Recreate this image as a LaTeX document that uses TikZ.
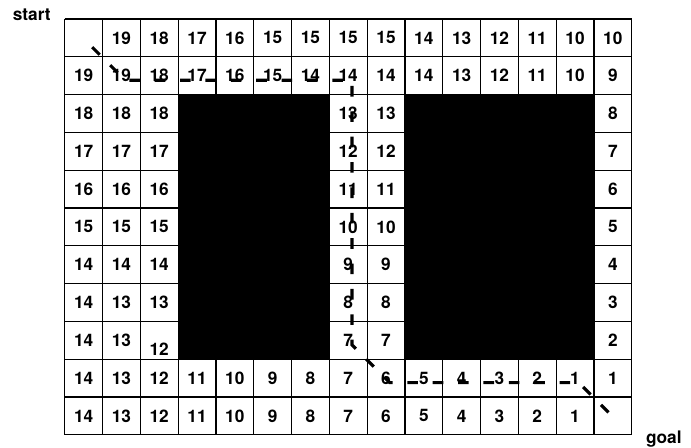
\documentclass[tikz,border=0pt]{standalone}
\usepackage{fontspec}
\setmainfont{TeX Gyre Heros}
\usepackage{tikz}
\usepackage{xcolor}
\definecolor{wallblack}{HTML}{000000}
\def\nocell{x}

\begin{document}
\begin{tikzpicture}[
      num/.style={font=\fontsize{13}{15}\selectfont\bfseries, inner sep=0pt},
      tag/.style={font=\fontsize{13}{15}\selectfont\bfseries, inner sep=0pt, anchor=base},
      route/.style={line width=2.3pt, dash pattern=on 8pt off 11.1pt, dash phase=14pt},
      wall/.style={fill=wallblack}
    ]
      \useasboundingbox (-1.712, 0.503) rectangle (16.568, -11.322);

      % Walls
      \fill[wall] (3,-2) rectangle (7,-9);
      \fill[wall] (9,-2) rectangle (14,-9);

      % Grid
      \draw[line width=0.9pt] (0,-11) grid (15,0);

      % Route
      \coordinate (w1) at (0.60, -0.62);
      \coordinate (w2) at (1.60, -1.62);
      \coordinate (w3) at (7.60, -1.62);
      \coordinate (w4) at (7.60, -8.62);
      \coordinate (w5) at (8.60, -9.62);
      \coordinate (w6) at (13.60, -9.62);
      \coordinate (w7) at (14.60, -10.62);
      \draw[route] (w1) -- (w2) -- (w3) -- (w4) -- (w5) -- (w6) -- (w7);

      % Distances
      \foreach \vals [count=\r] in {
          {x,19,18,17,16,15,15,15,15,14,13,12,11,10,10},
          {19,19,18,17,16,15,14,14,14,14,13,12,11,10,9},
          {18,18,18,x,x,x,x,13,13,x,x,x,x,x,8},
          {17,17,17,x,x,x,x,12,12,x,x,x,x,x,7},
          {16,16,16,x,x,x,x,11,11,x,x,x,x,x,6},
          {15,15,15,x,x,x,x,10,10,x,x,x,x,x,5},
          {14,14,14,x,x,x,x,9,9,x,x,x,x,x,4},
          {14,13,13,x,x,x,x,8,8,x,x,x,x,x,3},
          {14,13,x,x,x,x,x,7,7,x,x,x,x,x,2},
          {14,13,12,11,10,9,8,7,6,5,4,3,2,1,1},
          {14,13,12,11,10,9,8,7,6,5,4,3,2,1,x}} {
        \foreach \v [count=\c] in \vals {
          \ifx\v\nocell\else
            \node[num] (n-\c-\r) at (\c-0.5, 0.5-\r) {\v};
          \fi
        }
      }
      \node[num] (n-3-9) at (2.5, -8.74) {12};

      % Labels
      \node[tag] (start) at (-0.873, -0.03) {start};
      \node[tag] (goal) at (15.85, -11.22) {goal};
    \end{tikzpicture}
\end{document}
